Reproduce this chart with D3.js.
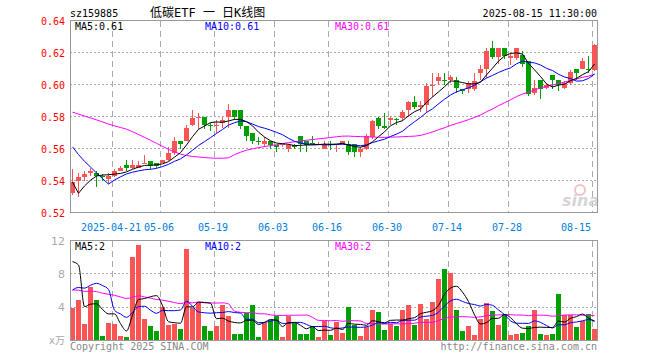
<!DOCTYPE html>
<meta charset="utf-8">
<style>
body { margin: 0; background: #fff; }
svg { display: block; }
text { font-family: "DejaVu Sans Mono", monospace; font-size: 10px; }
.grid-v { stroke: #aaa; stroke-dasharray: 6,4; shape-rendering: crispEdges; }
.grid-h { stroke: #aaa; stroke-dasharray: 2,2; shape-rendering: crispEdges; }
.frame { fill: none; stroke: #999; shape-rendering: crispEdges; }
.ma { fill: none; stroke-width: 1px; }
</style>
<svg width="660" height="360"></svg>
<script src="https://d3js.org/d3.v7.min.js"></script>
<script>
// trading days shown (2025)
var dates = [
  "04-10","04-11","04-14","04-15","04-16","04-17","04-18","04-21","04-22","04-23","04-24","04-25","04-28","04-29","04-30",
  "05-06","05-07","05-08","05-09","05-12","05-13","05-14","05-15","05-16","05-19","05-20","05-21","05-22","05-23","05-26","05-27","05-28","05-29","05-30",
  "06-03","06-04","06-05","06-06","06-09","06-10","06-11","06-12","06-13","06-16","06-17","06-18","06-19","06-20","06-23","06-24","06-25","06-26","06-27","06-30",
  "07-01","07-02","07-03","07-04","07-07","07-08","07-09","07-10","07-11","07-14","07-15","07-16","07-17","07-18","07-21","07-22","07-23","07-24","07-25","07-28","07-29","07-30","07-31",
  "08-01","08-04","08-05","08-06","08-07","08-08","08-11","08-12","08-13","08-14","08-15"
];

var open = [
  0.532,0.540,0.542,0.545,0.545,0.543,0.541,0.543,0.546,0.550,0.548,0.548,0.5505,0.552,0.551,
  0.551,0.553,0.557,0.565,0.565,0.575,0.579,0.580,0.575,0.574,0.576,0.580,0.584,0.584,0.574,0.570,0.565,0.563,0.565,
  0.562,0.562,0.560,0.562,0.568,0.565,0.5635,0.562,0.560,0.563,0.562,0.563,0.563,0.563,0.558,0.560,0.567,0.579,0.574,0.578,
  0.5785,0.579,0.584,0.589,0.586,0.587,0.599,0.602,0.603,0.603,0.603,0.597,0.597,0.597,0.607,0.610,0.623,0.6175,0.623,0.6165,0.6165,0.6185,0.615,
  0.595,0.603,0.598,0.606,0.603,0.598,0.601,0.6095,0.610,0.6095,0.609
];
var high = [
  0.547,0.545,0.546,0.548,0.546,0.544,0.545,0.547,0.549,0.553,0.553,0.552,0.556,0.552,0.551,
  0.553,0.561,0.567,0.565,0.575,0.584,0.582,0.580,0.576,0.578,0.580,0.588,0.584,0.584,0.574,0.570,0.567,0.567,0.565,
  0.562,0.563,0.563,0.563,0.568,0.565,0.568,0.564,0.565,0.565,0.563,0.565,0.565,0.563,0.561,0.569,0.578,0.580,0.582,0.580,
  0.579,0.584,0.590,0.593,0.590,0.601,0.607,0.607,0.607,0.606,0.605,0.597,0.602,0.607,0.612,0.623,0.627,0.623,0.623,0.6195,0.623,0.621,0.615,
  0.603,0.603,0.601,0.606,0.603,0.602,0.609,0.6095,0.6165,0.618,0.6255
];
var low = [
  0.531,0.530,0.540,0.543,0.536,0.540,0.538,0.542,0.546,0.546,0.547,0.548,0.551,0.547,0.548,
  0.551,0.552,0.556,0.560,0.565,0.574,0.572,0.572,0.571,0.570,0.573,0.573,0.578,0.572,0.565,0.563,0.562,0.561,0.560,
  0.558,0.561,0.558,0.560,0.558,0.558,0.562,0.562,0.560,0.559,0.558,0.562,0.556,0.555,0.555,0.559,0.566,0.572,0.572,0.575,
  0.575,0.577,0.580,0.585,0.583,0.583,0.5925,0.600,0.600,0.601,0.595,0.594,0.595,0.596,0.603,0.604,0.616,0.613,0.616,0.6125,0.6155,0.611,0.593,
  0.5935,0.591,0.597,0.597,0.596,0.597,0.600,0.603,0.6095,0.607,0.6085
];
var close = [
  0.539,0.542,0.544,0.546,0.543,0.542,0.543,0.546,0.548,0.548,0.550,0.550,0.551,0.549,0.549,
  0.553,0.557,0.565,0.563,0.573,0.579,0.580,0.575,0.574,0.575,0.578,0.584,0.580,0.574,0.568,0.565,0.564,0.565,0.562,
  0.561,0.563,0.562,0.561,0.563,0.562,0.563,0.563,0.563,0.562,0.563,0.565,0.558,0.558,0.560,0.568,0.577,0.574,0.573,0.579,
  0.578,0.583,0.589,0.586,0.587,0.599,0.600,0.605,0.602,0.605,0.598,0.596,0.601,0.602,0.610,0.621,0.617,0.623,0.618,0.618,0.623,0.613,0.594,
  0.598,0.597,0.600,0.603,0.600,0.601,0.608,0.607,0.615,0.609,0.625
];
// volume, 万
var volume = [
  3.9,4.75,1.95,6.4,4.75,0.5,2.07,1.95,0.5,0.4,10.0,11.4,2.55,1.63,1.04,
  3.99,1.75,1.95,1.36,10.9,3.9,4.6,1.63,1.04,1.63,4.2,2.9,0.76,0.76,3.2,4.24,0.36,2.04,2.44,
  2.84,0.36,2.84,2.04,0.76,0.76,1.72,0.36,2.32,0.64,2.12,0.88,4.0,1.84,0.52,1.56,3.64,3.4,1.24,1.96,
  1.72,3.64,4.24,1.84,4.36,2.56,4.6,7.36,8.56,8.08,3.64,1.04,1.72,0.64,2.56,4.48,3.52,1.84,2.96,0.64,0.76,0.88,1.64,
  3.64,0.76,0.64,0.76,5.56,3.04,3.04,1.6,2.32,3.16,1.36
];

// closes / volumes before the window, only feed the moving averages at the left edge
var priorClose = [
  0.578,0.580,0.582,0.579,0.581,0.583,0.580,0.578,0.579,
  0.598,0.602,0.605,0.604,0.606,0.610,0.613,0.613,0.604,0.600,0.596,
  0.590,0.586,0.582,0.580,0.577,0.577,0.521,0.528,0.530
];
var priorVolume = [
  5.6,6.2,5.9,6.4,5.8,6.1,5.7,6.3,5.9,6.1,
  6.0,6.4,5.8,6.2,6.1,5.9,6.3,5.8,6.0,5.7,
  1.75,2.7,2.9,2.5,3.15,6.75,26.95,4.9,4.5
];

var tickDates = ["04-21","05-06","05-19","06-03","06-16","06-30","07-14","07-28","08-15"];
var tickLabels = ["2025-04-21","05-06","05-19","06-03","06-16","06-30","07-14","07-28","08-15"];
var priceLabels = [0.52,0.54,0.56,0.58,0.60,0.62,0.64];
var priceGrid = [0.54,0.56,0.58,0.60,0.62];
var volLabels = [4,8,12];
var volGrid = [4,8];

var red = "#fa5454", green = "#00a000";

var svg = d3.select("svg");

var left = 70, right = 598;
var x = d3.scaleBand()
    .domain(dates)
    .range([left, right])
    .paddingInner(1/6)
    .paddingOuter(1/12)
    .align(0);

var y = d3.scaleLinear().domain([0.52, 0.64]).range([212.5, 20.5]);
var yv = d3.scaleLinear().domain([0, 12]).range([340, 240]);

function movingAvg(prior, vals, n) {
  var all = prior.concat(vals), off = prior.length;
  return vals.map(function(d, i) {
    return d3.mean(all.slice(off + i - n + 1, off + i + 1));
  });
}

var ma = [5, 10, 30].map(function(n) { return movingAvg(priorClose, close, n); });
var vma = [5, 10, 30].map(function(n) { return movingAvg(priorVolume, volume, n); });
var maColors = ["#000", "#0000ff", "#ff00ff"];
var maNames = ["MA5", "MA10", "MA30"];
var legendX = [75, 205, 335];

// clip
var defs = svg.append("defs");
defs.append("clipPath").attr("id", "clipP")
  .append("rect").attr("x", left).attr("y", 21).attr("width", right - left).attr("height", 191);
defs.append("clipPath").attr("id", "clipV")
  .append("rect").attr("x", left).attr("y", 241).attr("width", right - left).attr("height", 99);

// header
svg.append("text").attr("x", 70).attr("y", 16.5).text("sz159885");
svg.append("text").attr("x", 150).attr("y", 17)
  .style("font-family", "'DejaVu Sans Mono','Noto Sans CJK SC',monospace")
  .style("font-size", "12px")
  .text("低碳ETF 一 日K线图");
svg.append("text").attr("x", 597).attr("y", 16.5).attr("text-anchor", "end")
  .text("2025-08-15 11:30:00");

// grids
var grid = svg.append("g");
grid.selectAll(".gp").data(priceGrid).enter().append("line")
  .attr("class", "grid-h")
  .attr("x1", left).attr("x2", right)
  .attr("y1", function(d) { return y(d); }).attr("y2", function(d) { return y(d); });
grid.selectAll(".gv").data(volGrid).enter().append("line")
  .attr("class", "grid-h")
  .attr("x1", left).attr("x2", right)
  .attr("y1", function(d) { return Math.round(yv(d)) + 0.5; })
  .attr("y2", function(d) { return Math.round(yv(d)) + 0.5; });
[[20.5, 212.5], [240.5, 340.5]].forEach(function(r) {
  grid.selectAll(null).data(tickDates).enter().append("line")
    .attr("class", "grid-v")
    .attr("x1", function(d) { return x(d) + 0.5; })
    .attr("x2", function(d) { return x(d) + 0.5; })
    .attr("y1", r[0]).attr("y2", r[1]);
});

// sina watermark
var wm = svg.append("g");
wm.append("circle").attr("cx", 580).attr("cy", 190).attr("r", 5)
  .attr("fill", "none").attr("stroke", "#f0c4c4").attr("stroke-width", 2);
wm.append("text").attr("x", 562).attr("y", 206)
  .style("font-family", "'DejaVu Sans'").style("font-size", "16px")
  .style("font-style", "italic").style("font-weight", "bold")
  .attr("fill", "#d6d6d6").text("sina");

// candles
var candles = svg.append("g").attr("clip-path", "url(#clipP)")
  .selectAll("g").data(dates).enter().append("g")
  .attr("shape-rendering", "crispEdges");
candles.append("line")
  .attr("x1", function(d) { return x(d) + 2.5; })
  .attr("x2", function(d) { return x(d) + 2.5; })
  .attr("y1", function(d, i) { return y(high[i]); })
  .attr("y2", function(d, i) { return y(low[i]); })
  .attr("stroke", function(d, i) { return close[i] >= open[i] ? red : green; });
candles.append("rect")
  .attr("x", function(d) { return x(d); })
  .attr("width", x.bandwidth())
  .attr("y", function(d, i) { return y(Math.max(open[i], close[i])); })
  .attr("height", function(d, i) { return Math.max(1, Math.abs(y(open[i]) - y(close[i]))); })
  .attr("fill", function(d, i) { return close[i] >= open[i] ? red : green; });

// volume bars
svg.append("g").attr("shape-rendering", "crispEdges")
  .selectAll("rect").data(dates).enter().append("rect")
  .attr("x", function(d) { return x(d); })
  .attr("width", x.bandwidth())
  .attr("y", function(d, i) { return yv(volume[i]); })
  .attr("height", function(d, i) { return yv(0) - yv(volume[i]); })
  .attr("fill", function(d, i) { return close[i] >= open[i] ? red : green; });

// moving average lines
var lineP = d3.line()
  .x(function(d, i) { return x(dates[i]) + 2.5; })
  .y(function(d) { return y(d); });
var lineV = d3.line()
  .curve(d3.curveMonotoneX)
  .x(function(d, i) { return x(dates[i]) + 2.5; })
  .y(function(d) { return yv(d); });

var gp = svg.append("g").attr("clip-path", "url(#clipP)");
var gv = svg.append("g").attr("clip-path", "url(#clipV)");
[2, 1, 0].forEach(function(k) {
  gp.append("path").datum(ma[k]).attr("class", "ma").attr("stroke", maColors[k]).attr("d", lineP);
  gv.append("path").datum(vma[k]).attr("class", "ma").attr("stroke", maColors[k]).attr("d", lineV);
});

// frames
svg.append("rect").attr("class", "frame").attr("x", 70.5).attr("y", 20.5).attr("width", 527).attr("height", 192);
svg.append("rect").attr("class", "frame").attr("x", 70.5).attr("y", 240.5).attr("width", 527).attr("height", 100);

// legends
maNames.forEach(function(name, k) {
  svg.append("text").attr("x", legendX[k]).attr("y", 29.5).attr("fill", maColors[k])
    .text(name + ":" + ma[k][ma[k].length - 1].toFixed(2));
  svg.append("text").attr("x", legendX[k]).attr("y", 250).attr("fill", maColors[k])
    .text(name + ":" + Math.floor(vma[k][vma[k].length - 1]));
});

// axis labels
svg.selectAll(".pl").data(priceLabels).enter().append("text")
  .attr("x", 65).attr("y", function(d) { return y(d) + 4.5; })
  .attr("text-anchor", "end").attr("fill", "#ff0000")
  .text(function(d) { return d.toFixed(2); });
svg.selectAll(".vl").data(volLabels).enter().append("text")
  .attr("x", 65).attr("y", function(d) { return yv(d) + 4.5; })
  .attr("text-anchor", "end").attr("fill", "#aaa")
  .style("font-family", "'DejaVu Sans'").style("font-size", "11px")
  .text(function(d) { return d; });
svg.append("text").attr("x", 49).attr("y", 344).attr("fill", "#aaa")
  .style("font-family", "'DejaVu Sans','Noto Sans CJK SC'").text("x万");

svg.selectAll(".xl").data(tickDates).enter().append("text")
  .attr("x", function(d, i) { return x(d) - 1; })
  .attr("y", 231)
  .attr("text-anchor", function(d, i) { return i === tickDates.length - 1 ? "end" : "middle"; })
  .attr("fill", "#0080e0")
  .text(function(d, i) { return tickLabels[i]; });

// footer
svg.append("text").attr("x", 70).attr("y", 350).attr("fill", "#888").text("Copyright 2025 SINA.COM");
svg.append("text").attr("x", 597).attr("y", 350).attr("text-anchor", "end").attr("fill", "#888")
  .text("http://finance.sina.com.cn");
</script>
